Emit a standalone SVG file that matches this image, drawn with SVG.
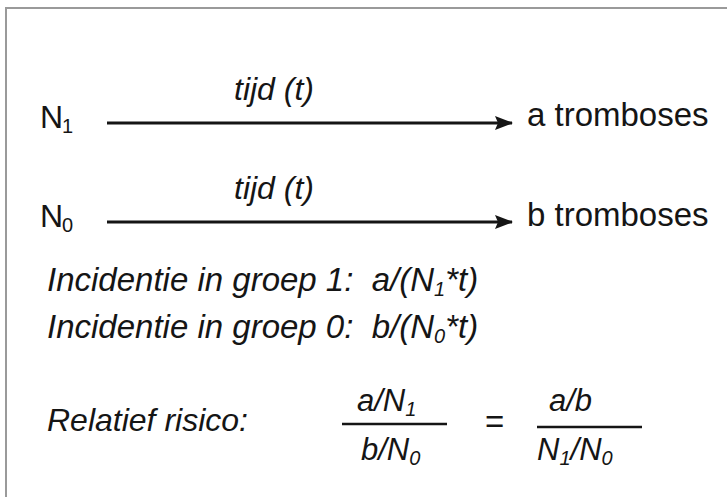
<svg xmlns="http://www.w3.org/2000/svg" width="727" height="497" viewBox="0 0 727 497">
<defs>
<style>
text{font-family:"Liberation Sans",Arial,sans-serif;fill:#151515;white-space:pre;}
.lbl{font-size:32px;}
.big{font-size:33px;}
.it{font-style:italic;font-size:31px;}
.it2{font-style:italic;font-size:33px;}
.sub{font-size:20px;}
.conn{stroke:#151515;stroke-width:3;fill:none;}
.frac{stroke:#151515;stroke-width:2.5;}
.frame{stroke:#9a9a9a;stroke-width:2;fill:none;}
</style>
<marker id="ah" viewBox="0 0 18 14" refX="17" refY="7" markerWidth="18" markerHeight="14" markerUnits="userSpaceOnUse" orient="auto">
<path d="M0,0 L18,7 L0,14 L3,7 Z" fill="#151515"/>
</marker>
</defs>
<rect width="727" height="497" fill="#ffffff"/>
<path class="frame" d="M6,497 V8 H727"/>
<g id="connectors">
<line class="conn" x1="107" y1="123" x2="512" y2="123" marker-end="url(#ah)"/>
<line class="conn" x1="107" y1="222" x2="512" y2="222" marker-end="url(#ah)"/>
</g>
<g id="n1">
<text class="lbl" x="40" y="128">N<tspan class="sub" dx="-1" dy="5">1</tspan></text>
</g>
<g id="label-t1"><text class="it" x="234" y="100" style="font-size:32px">tijd (t)</text></g>
<g id="a-trombo"><text class="big" x="527" y="126">a tromboses</text></g>
<g id="n0">
<text class="lbl" x="40" y="227">N<tspan class="sub" dx="-1" dy="5">0</tspan></text>
</g>
<g id="label-t0"><text class="it" x="234" y="199" style="font-size:32px">tijd (t)</text></g>
<g id="b-trombo"><text class="big" x="527" y="226">b tromboses</text></g>
<g id="inc1"><text class="it2" x="47" y="291" xml:space="preserve">Incidentie in groep 1:  a/(N<tspan class="sub" dy="5">1</tspan><tspan dy="-5">*t)</tspan></text></g>
<g id="inc0"><text class="it2" x="47" y="338" xml:space="preserve">Incidentie in groep 0:  b/(N<tspan class="sub" dy="5">0</tspan><tspan dy="-5">*t)</tspan></text></g>
<g id="rr"><text class="it" x="47" y="431" style="font-size:32px">Relatief risico:</text></g>
<g id="frac1">
<text class="it" x="357" y="411">a/N<tspan class="sub" dy="5">1</tspan></text>
<line class="frac" x1="342" y1="424" x2="447" y2="424"/>
<text class="it" x="361" y="460">b/N<tspan class="sub" dy="5">0</tspan></text>
</g>
<g id="eq"><text class="big" x="485" y="433">=</text></g>
<g id="frac2">
<text class="it" x="549" y="411">a/b</text>
<line class="frac" x1="537" y1="427" x2="642" y2="427"/>
<text class="it" x="537" y="460">N<tspan class="sub" dy="5">1</tspan><tspan dy="-5">/N</tspan><tspan class="sub" dy="5">0</tspan></text>
</g>
</svg>
